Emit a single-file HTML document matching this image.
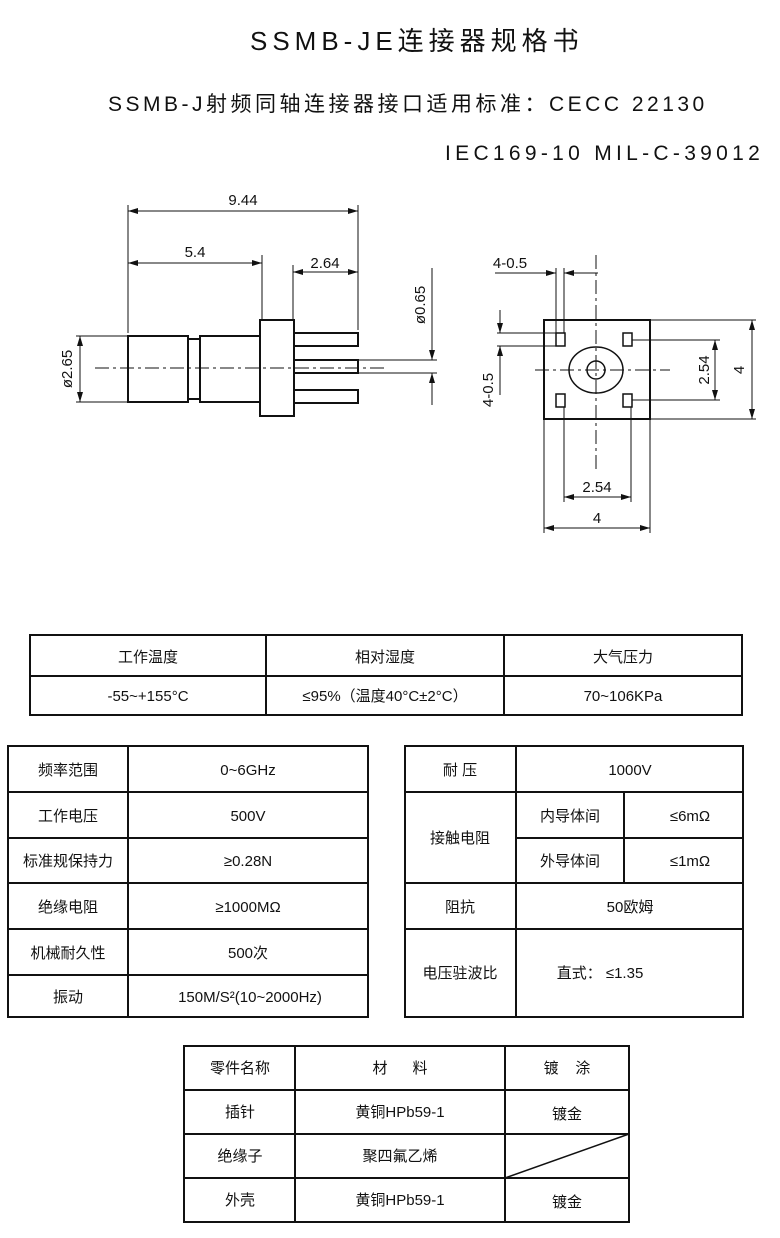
<!DOCTYPE html>
<html><head><meta charset="utf-8"><style>
html,body{margin:0;padding:0;background:#fff;}
svg{display:block;}
text{font-family:"Liberation Sans","Noto Sans CJK SC",sans-serif;fill:#111;}
</style></head><body>
<svg width="780" height="1238" viewBox="0 0 780 1238" xmlns="http://www.w3.org/2000/svg">
<defs>
<marker id="a" markerWidth="10" markerHeight="6" refX="10" refY="3" orient="auto-start-reverse" markerUnits="userSpaceOnUse"><path d="M0,0 L10,3 L0,6 z" fill="#111"/></marker>
</defs>
<text x="250" y="50" font-size="26" letter-spacing="5">SSMB-JE连接器规格书</text>
<text x="108" y="111" font-size="21" letter-spacing="3.5">SSMB-J射频同轴连接器接口适用标准：CECC 22130</text>
<text x="445" y="160" font-size="21" letter-spacing="4.3">IEC169-10 MIL-C-39012</text>

<g stroke="#111" fill="none" stroke-width="1">
<line x1="128" y1="205" x2="128" y2="333"/>
<line x1="358" y1="205" x2="358" y2="330"/>
<line x1="262" y1="255" x2="262" y2="320"/>
<line x1="293" y1="265" x2="293" y2="320"/>
<line x1="128" y1="211" x2="358" y2="211" marker-start="url(#a)" marker-end="url(#a)"/>
<line x1="128" y1="263" x2="262" y2="263" marker-start="url(#a)" marker-end="url(#a)"/>
<line x1="293" y1="272" x2="358" y2="272" marker-start="url(#a)" marker-end="url(#a)"/>
<g stroke-width="2">
<rect x="128" y="336" width="60" height="66"/>
<rect x="188" y="339" width="12" height="60"/>
<rect x="200" y="336" width="60" height="66"/>
<rect x="260" y="320" width="34" height="96"/>
<rect x="294" y="333" width="64" height="13"/>
<rect x="294" y="360" width="64" height="13"/>
<rect x="294" y="390" width="64" height="13"/>
</g>
<line x1="95" y1="368" x2="385" y2="368" stroke-dasharray="14,4,3,4"/>
<line x1="76" y1="336" x2="128" y2="336"/>
<line x1="76" y1="402" x2="128" y2="402"/>
<line x1="80" y1="336" x2="80" y2="402" marker-start="url(#a)" marker-end="url(#a)"/>
<line x1="358" y1="360" x2="437" y2="360"/>
<line x1="358" y1="373" x2="437" y2="373"/>
<line x1="432" y1="268" x2="432" y2="360" marker-end="url(#a)"/>
<line x1="432" y1="373" x2="432" y2="405" marker-start="url(#a)"/>
<rect x="544" y="320" width="106" height="99" stroke-width="2"/>
<g stroke-width="1.5">
<rect x="556" y="333" width="9" height="13"/>
<rect x="623" y="333" width="9" height="13"/>
<rect x="556" y="394" width="9" height="13"/>
<rect x="623" y="394" width="9" height="13"/>
<ellipse cx="596" cy="370" rx="27" ry="23"/>
<circle cx="596" cy="370" r="9"/>
</g>
<line x1="596" y1="255" x2="596" y2="470" stroke-dasharray="14,4,3,4"/>
<line x1="535" y1="370" x2="670" y2="370" stroke-dasharray="14,4,3,4"/>
<line x1="556" y1="268" x2="556" y2="333"/>
<line x1="564" y1="268" x2="564" y2="333"/>
<line x1="495" y1="273" x2="556" y2="273" marker-end="url(#a)"/>
<line x1="564" y1="273" x2="598" y2="273" marker-start="url(#a)"/>
<line x1="497" y1="333" x2="560" y2="333"/>
<line x1="497" y1="346" x2="560" y2="346"/>
<line x1="500" y1="310" x2="500" y2="333" marker-end="url(#a)"/>
<line x1="500" y1="346" x2="500" y2="395" marker-start="url(#a)"/>
<line x1="650" y1="320" x2="756" y2="320"/>
<line x1="650" y1="419" x2="756" y2="419"/>
<line x1="752" y1="320" x2="752" y2="419" marker-start="url(#a)" marker-end="url(#a)"/>
<line x1="632" y1="340" x2="720" y2="340"/>
<line x1="632" y1="400" x2="720" y2="400"/>
<line x1="715" y1="340" x2="715" y2="400" marker-start="url(#a)" marker-end="url(#a)"/>
<line x1="564" y1="407" x2="564" y2="502"/>
<line x1="631" y1="407" x2="631" y2="502"/>
<line x1="564" y1="497" x2="631" y2="497" marker-start="url(#a)" marker-end="url(#a)"/>
<line x1="544" y1="419" x2="544" y2="533"/>
<line x1="650" y1="419" x2="650" y2="533"/>
<line x1="544" y1="528" x2="650" y2="528" marker-start="url(#a)" marker-end="url(#a)"/>
</g>
<g font-size="15">
<text x="243" y="205" text-anchor="middle">9.44</text>
<text x="195" y="257" text-anchor="middle">5.4</text>
<text x="325" y="268" text-anchor="middle">2.64</text>
<text transform="translate(72,369) rotate(-90)" text-anchor="middle">ø2.65</text>
<text transform="translate(425,305) rotate(-90)" text-anchor="middle">ø0.65</text>
<text x="510" y="268" text-anchor="middle">4-0.5</text>
<text transform="translate(493,390) rotate(-90)" text-anchor="middle">4-0.5</text>
<text transform="translate(709,370) rotate(-90)" text-anchor="middle">2.54</text>
<text transform="translate(744,370) rotate(-90)" text-anchor="middle">4</text>
<text x="597" y="492" text-anchor="middle">2.54</text>
<text x="597" y="523" text-anchor="middle">4</text>
</g>

<g stroke="#111" stroke-width="2" fill="none">
<rect x="30" y="635" width="712" height="80"/>
<line x1="30" y1="676" x2="742" y2="676"/>
<line x1="266" y1="635" x2="266" y2="715"/>
<line x1="504" y1="635" x2="504" y2="715"/>
</g>
<g font-size="15" text-anchor="middle">
<text x="148" y="662">工作温度</text><text x="385" y="662">相对湿度</text><text x="623" y="662">大气压力</text>
<text x="148" y="701">-55~+155°C</text><text x="385" y="701">≤95%（温度40°C±2°C）</text><text x="623" y="701">70~106KPa</text>
</g>

<g stroke="#111" stroke-width="2" fill="none">
<rect x="8" y="746" width="360" height="271"/>
<line x1="128" y1="746" x2="128" y2="1017"/>
<line x1="8" y1="792" x2="368" y2="792"/>
<line x1="8" y1="838" x2="368" y2="838"/>
<line x1="8" y1="883" x2="368" y2="883"/>
<line x1="8" y1="929" x2="368" y2="929"/>
<line x1="8" y1="975" x2="368" y2="975"/>
<rect x="405" y="746" width="338" height="271"/>
<line x1="516" y1="746" x2="516" y2="1017"/>
<line x1="405" y1="792" x2="743" y2="792"/>
<line x1="516" y1="838" x2="743" y2="838"/>
<line x1="624" y1="792" x2="624" y2="883"/>
<line x1="405" y1="883" x2="743" y2="883"/>
<line x1="405" y1="929" x2="743" y2="929"/>
</g>
<g font-size="15" text-anchor="middle">
<text x="68" y="775">频率范围</text><text x="248" y="775">0~6GHz</text>
<text x="68" y="821">工作电压</text><text x="248" y="821">500V</text>
<text x="68" y="866">标准规保持力</text><text x="248" y="866">≥0.28N</text>
<text x="68" y="912">绝缘电阻</text><text x="248" y="912">≥1000MΩ</text>
<text x="68" y="958">机械耐久性</text><text x="248" y="958">500次</text>
<text x="68" y="1002">振动</text><text x="250" y="1002">150M/S²(10~2000Hz)</text>
<text x="460" y="775">耐 压</text><text x="630" y="775">1000V</text>
<text x="460" y="843">接触电阻</text>
<text x="570" y="821">内导体间</text><text x="690" y="821">≤6mΩ</text>
<text x="570" y="866">外导体间</text><text x="690" y="866">≤1mΩ</text>
<text x="460" y="912">阻抗</text><text x="630" y="912">50欧姆</text>
<text x="460" y="978">电压驻波比</text><text x="600" y="978">直式： ≤1.35</text>
</g>

<g stroke="#111" stroke-width="2" fill="none">
<rect x="184" y="1046" width="445" height="176"/>
<line x1="295" y1="1046" x2="295" y2="1222"/>
<line x1="505" y1="1046" x2="505" y2="1222"/>
<line x1="184" y1="1090" x2="629" y2="1090"/>
<line x1="184" y1="1134" x2="629" y2="1134"/>
<line x1="184" y1="1178" x2="629" y2="1178"/>
<line x1="505" y1="1178" x2="629" y2="1134" stroke-width="1.5"/>
</g>
<g font-size="15" text-anchor="middle">
<text x="240" y="1073">零件名称</text><text x="400" y="1073" xml:space="preserve">材      料</text><text x="567" y="1073" xml:space="preserve">镀    涂</text>
<text x="240" y="1117">插针</text><text x="400" y="1117">黄铜HPb59-1</text><text x="567" y="1119">镀金</text>
<text x="240" y="1161">绝缘子</text><text x="400" y="1161">聚四氟乙烯</text>
<text x="240" y="1205">外壳</text><text x="400" y="1205">黄铜HPb59-1</text><text x="567" y="1207">镀金</text>
</g>
</svg>
</body></html>
